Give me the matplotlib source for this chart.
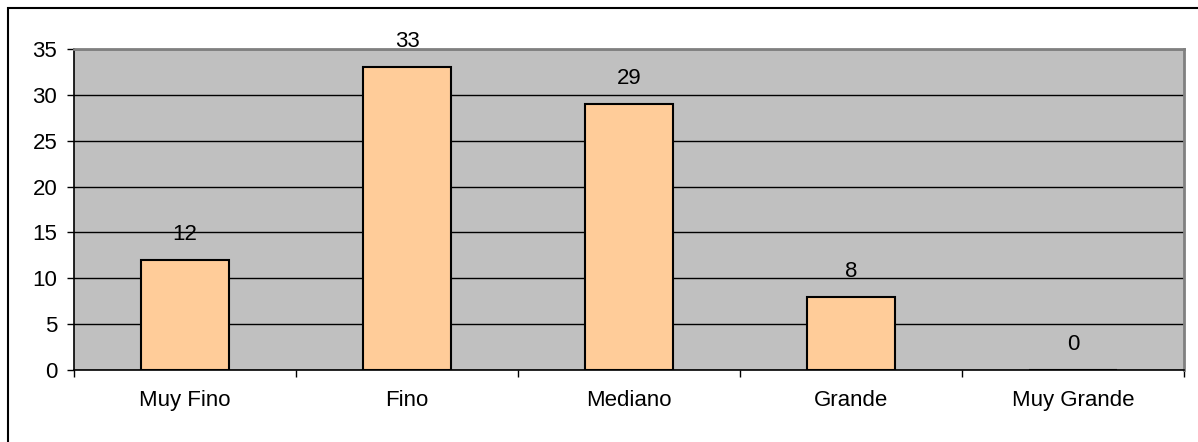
import matplotlib
matplotlib.use("Agg")
import matplotlib.pyplot as plt
from matplotlib.patches import Rectangle
import numpy as np

categories = ["Muy Fino", "Fino", "Mediano", "Grande", "Muy Grande"]
counts = [12, 33, 29, 8, 0]
y_ticks = [0, 5, 10, 15, 20, 25, 30, 35]

plt.rcParams["font.family"] = ["Liberation Sans", "DejaVu Sans"]
FS = 16

W, H = 1198, 442
fig = plt.figure(figsize=(W / 100, H / 100), dpi=100)

# Outer chart frame (top and left edges visible)
fig.patches.append(Rectangle((8 / W, -0.1), 1.2, (H - 8) / H + 0.1,
                             transform=fig.transFigure, fill=False,
                             edgecolor="black", linewidth=1.5, zorder=0))

left, right, top, bottom = 74, 1184, 49, 370
ax = fig.add_axes([left / W, 1 - bottom / H, (right - left) / W, (bottom - top) / H])
ax.set_facecolor("#C0C0C0")

x = np.arange(len(categories))
ax.bar(x, counts, width=0.4, color="#FFCC99", edgecolor="black", linewidth=1.5, zorder=3)

for xi, v in zip(x, counts):
    ax.annotate(str(v), (xi, v), xytext=(0, 14.4), textcoords="offset points",
                ha="center", va="baseline", fontsize=FS, zorder=4)

ax.set_xlim(-0.5, len(categories) - 0.5)
ax.set_ylim(0, 35)
ax.set_yticks(y_ticks)
ax.yaxis.grid(True, color="black", linewidth=1.0, zorder=1)
ax.set_axisbelow(True)

ax.set_xticks(x)
ax.set_xticklabels(categories)
ax.set_xticks(np.arange(len(categories) + 1) - 0.5, minor=True)
ax.tick_params(axis="x", which="major", length=0, pad=14.5, labelsize=FS)
ax.tick_params(axis="x", which="minor", length=5, width=1, direction="out")
ax.tick_params(axis="y", length=5, width=1, direction="out", pad=7, labelsize=FS)

for side in ("left", "bottom"):
    ax.spines[side].set_color("black")
    ax.spines[side].set_linewidth(1.2)
for side in ("top", "right"):
    ax.spines[side].set_color("#808080")
    ax.spines[side].set_linewidth(2)

fig.savefig("out.png", dpi=100)
